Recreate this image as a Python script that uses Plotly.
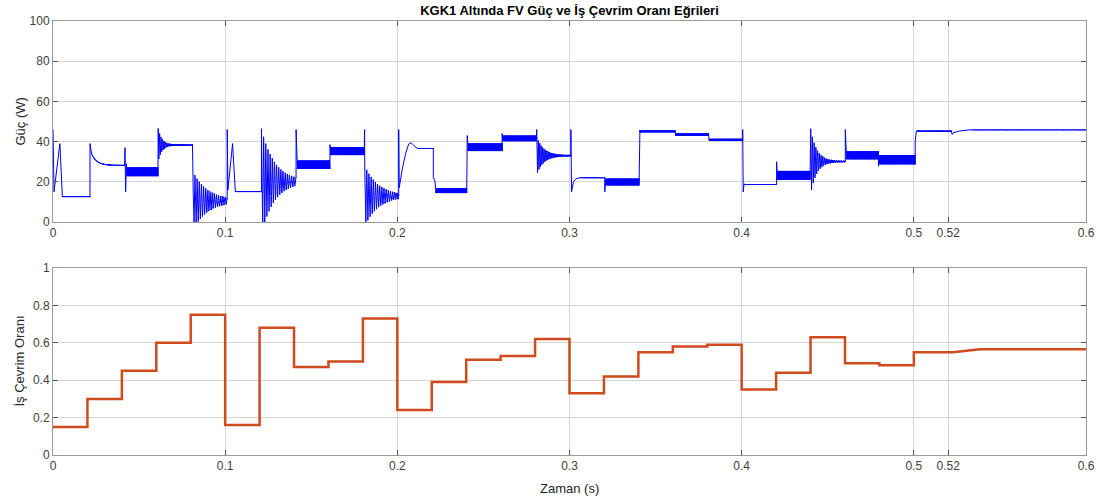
import numpy as np
import plotly.graph_objects as go
from plotly.subplots import make_subplots

# ---------------- data ----------------
# Duty cycle (step changes every 0.02 s)
duty_step_t = [0.00, 0.02, 0.04, 0.06, 0.08, 0.10, 0.12, 0.14, 0.16, 0.18, 0.20, 0.22, 0.24,
               0.26, 0.28, 0.30, 0.32, 0.34, 0.36, 0.38, 0.40, 0.42, 0.44, 0.46, 0.48, 0.50]
duty_step_v = [0.15, 0.30, 0.45, 0.60, 0.75, 0.16, 0.68, 0.47, 0.50, 0.73, 0.24, 0.39, 0.51,
               0.53, 0.62, 0.33, 0.42, 0.55, 0.58, 0.59, 0.35, 0.44, 0.63, 0.49, 0.48, 0.55]
duty_tail_t = [0.52, 0.5227, 0.5386, 0.60]
duty_tail_v = [0.55, 0.55, 0.565, 0.565]

# PV power segments (start time, steady level, ripple half-band, damped oscillation)
pw_start = [0.0, 0.0215, 0.0418, 0.0611, 0.0812, 0.1012, 0.1211, 0.1412, 0.1609, 0.1810,
            0.2008, 0.2209, 0.2406, 0.2609, 0.2810, 0.3008, 0.3205, 0.3405, 0.3616, 0.3810,
            0.4006, 0.4203, 0.4401, 0.4602, 0.4795, 0.5008, 0.5217]
pw_level = [12.6, 28.2, 25.0, 38.3, 10.5, 15.1, 20.1, 28.5, 35.3, 12.9,
            36.6, 15.6, 37.2, 41.6, 33.0, 22.0, 19.9, 45.1, 43.5, 40.9,
            18.6, 23.2, 30.1, 33.2, 31.0, 45.2, 45.8]
pw_ripple = [0.2, 0.2, 2.2, 0.3, 0.3, 0.2, 0.3, 2.1, 2.0, 0.3,
             0.2, 1.2, 1.9, 1.4, 0.3, 0.2, 1.7, 0.5, 0.6, 0.5,
             0.2, 2.2, 0.3, 2.0, 2.3, 0.3, 0.15]
pw_osc_amp = [0, 0, 0, 8.0, 14.5, 0, 26.0, 0, 0, 15.0,
              0, 0, 0, 0, 9.0, 0, 0, 0, 0, 0,
              0, 0, 16.0, 0, 0, 0, 0]
pw_osc_tau = [1, 1, 1, 0.0022, 0.0085, 1, 0.0075, 1, 1, 0.0078,
              1, 1, 1, 1, 0.004, 1, 1, 1, 1, 1,
              1, 1, 0.0035, 1, 1, 1, 1]
pw_osc_freq = [0, 0, 0, 1200, 800, 0, 800, 0, 0, 800,
               0, 0, 0, 0, 1200, 0, 0, 0, 0, 0,
               0, 0, 1000, 0, 0, 0, 0]
pw_settle_from = [None, 35.0] + [None] * 25
pw_settle_tau = [1, 0.003] + [1] * 25
# transient points at the start of each segment: (time after start, W)
pw_knots = [
    [(0, 46), (0.0006, 15), (0.0040, 39), (0.0050, 12.6)],
    [(0, 39), (0.0004, 35.5)],
    [(0, 37), (0.0004, 15), (0.0008, 29), (0.0011, 24)],
    [],
    [],
    [(0, 46), (0.0004, 16), (0.0031, 39), (0.0043, 15.1)],
    [],
    [(0, 46), (0.0004, 27)],
    [(0, 38.5)],
    [(0, 46)],
    [(0, 46), (0.0003, 17), (0.002, 26), (0.004, 34), (0.0058, 38.8), (0.0072, 39.5),
     (0.0088, 38.0), (0.011, 36.6)],
    [(0, 22), (0.0009, 20.5), (0.0014, 16)],
    [(0, 43), (0.0004, 38)],
    [(0, 44)],
    [(0, 46)],
    [(0, 46), (0.0004, 15), (0.0015, 20), (0.003, 21.5), (0.005, 22)],
    [(0, 15), (0.0005, 19)],
    [],
    [(0, 42.8)],
    [],
    [(0, 46), (0.0003, 15), (0.0008, 19)],
    [(0, 30), (0.0004, 21)],
    [],
    [(0, 46), (0.0004, 33)],
    [(0, 27.8)],
    [(0, 40), (0.0006, 45)],
    [(0, 45), (0.0006, 43.6), (0.0012, 44.4), (0.005, 45.3), (0.011, 45.8)],
]
T_END = 0.6

# ---------------- build traces ----------------
dt = 2e-5
pt, pv = [], []
for i, t0 in enumerate(pw_start):
    t1 = pw_start[i + 1] if i + 1 < len(pw_start) else T_END
    tk = 0.0
    for dk, vk in pw_knots[i]:
        pt.append(t0 + dk)
        pv.append(vk)
        tk = dk
    if pw_knots[i]:
        tk += dt
    tt = np.arange(t0 + tk, t1, dt)
    if i + 1 >= len(pw_start):
        tt = np.append(tt, T_END)
    s = tt - (t0 + tk)
    lev = pw_level[i]
    sf = pw_settle_from[i] if pw_settle_from[i] is not None else lev
    y = lev + (sf - lev) * np.exp(-s / pw_settle_tau[i])
    y = y + pw_osc_amp[i] * np.exp(-s / pw_osc_tau[i]) * np.cos(2 * np.pi * pw_osc_freq[i] * s)
    sign = np.where(np.arange(len(tt)) % 2 == 0, 1.0, -1.0)
    y = y + pw_ripple[i] * sign
    y = np.maximum(y, 0.0)
    pt.extend(tt.tolist())
    pv.extend(y.tolist())

dx, dy = [], []
for i, t0 in enumerate(duty_step_t):
    t1 = duty_step_t[i + 1] if i + 1 < len(duty_step_t) else duty_tail_t[0]
    dx += [t0, t1]
    dy += [duty_step_v[i], duty_step_v[i]]
dx += duty_tail_t
dy += duty_tail_v

# ---------------- figure ----------------
FONT = "Liberation Sans, Arial, Helvetica, sans-serif"
fig = make_subplots(rows=2, cols=1, shared_xaxes=False, vertical_spacing=0.1)
fig.add_trace(go.Scatter(x=pt, y=pv, mode="lines", line=dict(color="#0000FF", width=1),
                         showlegend=False, hoverinfo="skip"), row=1, col=1)
fig.add_trace(go.Scatter(x=dx, y=dy, mode="lines", line=dict(color="#CF4A1D", width=2.5),
                         showlegend=False, hoverinfo="skip"), row=2, col=1)

H_PLOT = 503 - 21 - 48
top_lo = (455 - 222) / H_PLOT
bot_hi = (455 - 268) / H_PLOT

xt = [0, 0.1, 0.2, 0.3, 0.4, 0.5, 0.52, 0.6]
xtt = ["0", "0.1", "0.2", "0.3", "0.4", "0.5", "0.52", "0.6"]
axis_common = dict(showline=True, linecolor="#9a9a9a", linewidth=1, mirror="ticks",
                   ticks="inside", ticklen=5, tickcolor="#555555",
                   showgrid=True, gridcolor="#d4d4d4", gridwidth=1, zeroline=False,
                   tickfont=dict(family=FONT, size=12, color="#404040"))
fig.update_xaxes(range=[0, 0.6], tickvals=xt, ticktext=xtt, **axis_common)
fig.update_yaxes(**axis_common)
fig.update_layout(
    xaxis=dict(domain=[0, 1]),
    xaxis2=dict(domain=[0, 1]),
    yaxis=dict(domain=[top_lo, 1], range=[0, 100], tickvals=[0, 20, 40, 60, 80, 100]),
    yaxis2=dict(domain=[0, bot_hi], range=[0, 1], tickvals=[0, 0.2, 0.4, 0.6, 0.8, 1],
                ticktext=["0", "0.2", "0.4", "0.6", "0.8", "1"]),
    width=1108, height=503,
    margin=dict(l=53, r=22, t=21, b=48),
    paper_bgcolor="white", plot_bgcolor="white",
    title=dict(text="<b>KGK1 Altında FV Güç ve İş Çevrim Oranı Eğrileri</b>",
               x=(53 + 1086) / 2 / 1108, xanchor="center", y=1 - 10 / 503, yanchor="middle",
               font=dict(family=FONT, size=13, color="#000000")),
    font=dict(family=FONT),
)
W_PLOT = 1086 - 53
fig.add_annotation(text="Güç (W)", xref="paper", yref="paper",
                   x=(20 - 53) / W_PLOT, y=(455 - 121.5) / H_PLOT, textangle=-90,
                   showarrow=False, xanchor="center", yanchor="middle",
                   font=dict(family=FONT, size=13, color="#262626"))
fig.add_annotation(text="İş Çevrim Oranı", xref="paper", yref="paper",
                   x=(19 - 53) / W_PLOT, y=(455 - 361.5) / H_PLOT, textangle=-90,
                   showarrow=False, xanchor="center", yanchor="middle",
                   font=dict(family=FONT, size=13, color="#262626"))
fig.add_annotation(text="Zaman (s)", xref="paper", yref="paper",
                   x=0.5, y=(455 - 488) / H_PLOT,
                   showarrow=False, xanchor="center", yanchor="middle",
                   font=dict(family=FONT, size=13, color="#262626"))

fig.write_html("out.html")
